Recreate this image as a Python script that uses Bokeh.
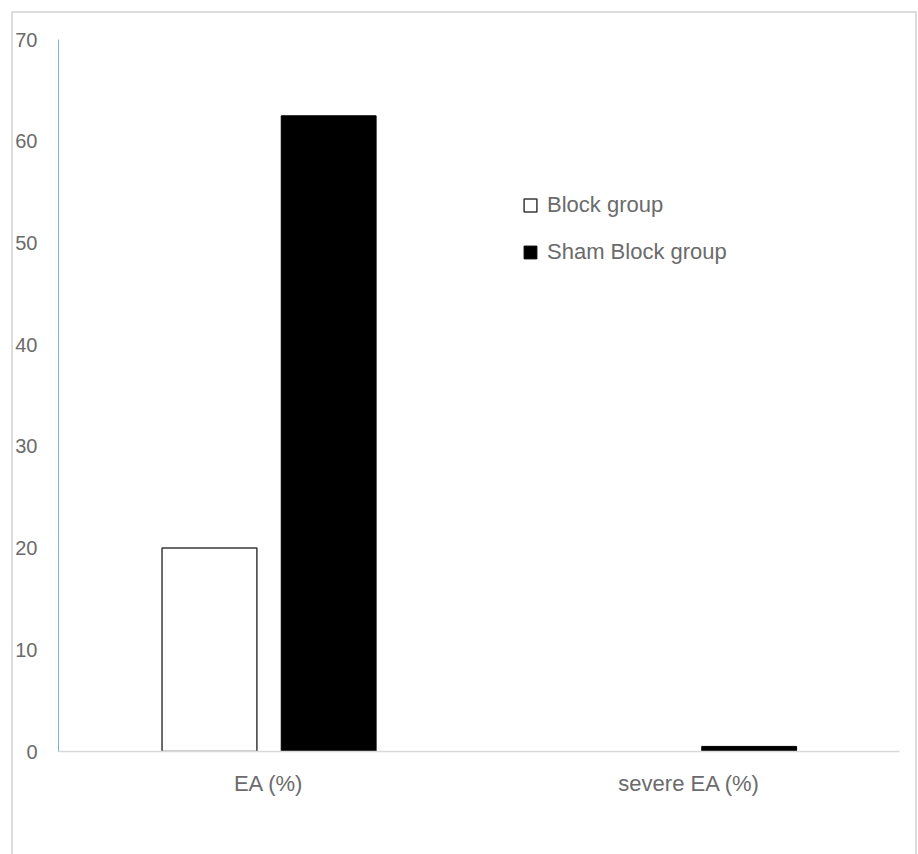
from bokeh.plotting import figure
from bokeh.models import (ColumnDataSource, FactorRange, Range1d, Legend, LegendItem,
                          FixedTicker, InlineStyleSheet)
from bokeh.transform import dodge
from bokeh.embed import file_html
from bokeh.resources import INLINE

categories = ["EA (%)", "severe EA (%)"]
block_group = [20, 0]
sham_block_group = [62.5, 0.5]
y_ticks = [0, 10, 20, 30, 40, 50, 60, 70]

FONT = "Liberation Sans"
TXT = "#6b6b6b"

src = ColumnDataSource(dict(cat=categories, block=block_group, sham=sham_block_group,
                            block_line=["#3a3a3a" if v > 0 else None for v in block_group]))

p = figure(width=918, height=854, x_range=FactorRange(*categories, range_padding=0),
           y_range=Range1d(0, 70), output_backend="svg", toolbar_location=None,
           min_border_left=58, min_border_right=19, min_border_top=39, min_border_bottom=103)
p.outline_line_color = None
p.xgrid.grid_line_color = None
p.ygrid.grid_line_color = None
p.background_fill_color = "white"
p.border_fill_color = "white"

r1 = p.vbar(x=dodge("cat", -0.141, range=p.x_range), top="block", width=0.2256, source=src,
            fill_color="white", line_color="block_line", line_width=1.5)
r2 = p.vbar(x=dodge("cat", 0.1425, range=p.x_range), top="sham", width=0.2256, source=src,
            fill_color="black", line_color="black", line_width=1)

# axes
p.yaxis.ticker = FixedTicker(ticks=y_ticks)
p.yaxis.axis_line_color = "#7db3e2"
p.yaxis.axis_line_width = 1
p.yaxis.major_tick_line_color = None
p.yaxis.minor_tick_line_color = None
p.yaxis.major_label_text_font = FONT
p.yaxis.major_label_text_font_size = "20px"
p.yaxis.major_label_text_color = TXT
p.yaxis.major_label_standoff = 15

p.xaxis.axis_line_color = "#d9d9d9"
p.xaxis.axis_line_width = 1.5
p.xaxis.major_tick_line_color = None
p.xaxis.minor_tick_line_color = None
p.xaxis.major_label_text_font = FONT
p.xaxis.major_label_text_font_size = "22px"
p.xaxis.major_label_text_color = TXT
p.xaxis.major_label_standoff = 13

legend = Legend(items=[LegendItem(label="Block group", renderers=[r1]),
                       LegendItem(label="Sham Block group", renderers=[r2])],
                location=(464, 486), orientation="vertical",
                glyph_width=16, glyph_height=16, label_standoff=9, spacing=21,
                padding=0, margin=0, border_line_color=None, background_fill_alpha=0,
                label_text_font=FONT, label_text_font_size="22px", label_text_color=TXT)
p.add_layout(legend)

# outer chart border (drawn around the whole chart area)
p.stylesheets = [InlineStyleSheet(css="""
:host { position: relative; }
:host::after {
  content: ""; position: absolute; left: 11px; top: 11px; right: 1px; bottom: -20px;
  border: 2px solid #dcdcdc; pointer-events: none; z-index: 100;
}
""")]

open("out.html", "w").write(file_html(p, INLINE))
